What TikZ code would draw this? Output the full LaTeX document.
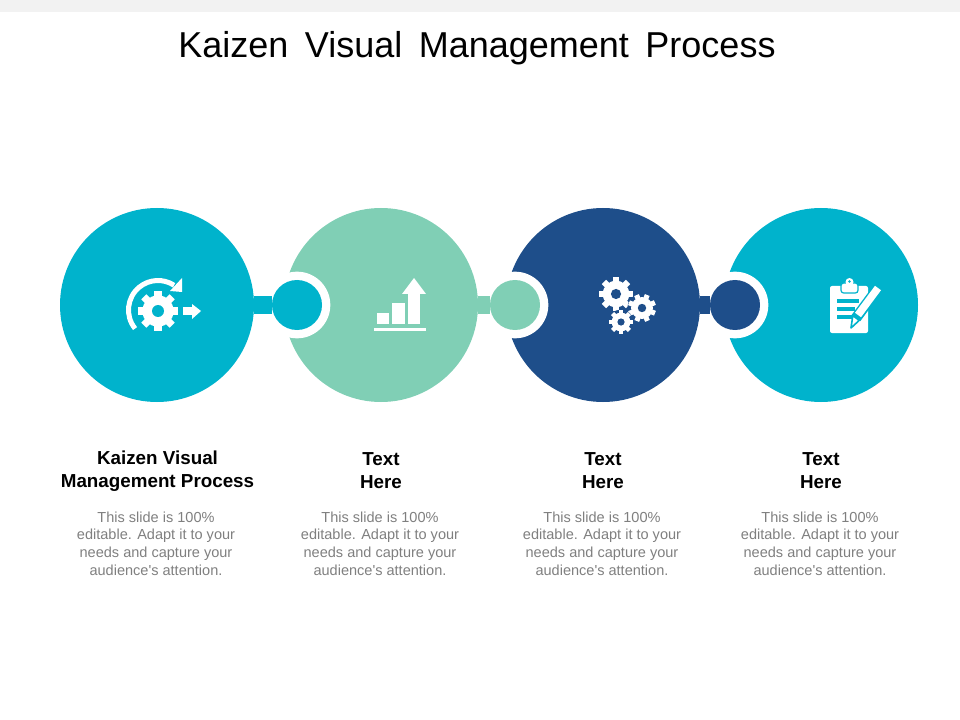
\documentclass[tikz,border=0pt]{standalone}
\usepackage{fontspec}
\setmainfont{Liberation Sans}
\newfontfamily\bodyfont{Liberation Sans}
\definecolor{tealc}{HTML}{00B3CC}
\definecolor{mintc}{HTML}{80CFB5}
\definecolor{navyc}{HTML}{1E4E8A}
\definecolor{bodygray}{HTML}{7F7F7F}
\definecolor{bandgray}{HTML}{F2F2F2}
\newcommand{\gearicon}[5]{
    \begin{scope}[shift={(#1,#2)}]
        \fill[white] (0,0) circle ({0.78*#3});
        \foreach \a in {0,45,...,315}
            \draw[white,line width={0.27*#3}] (\a+#5:{0.6*#3}) -- (\a+#5:#3);
        \fill[#4] (0,0) circle (0.3*#3);
    \end{scope}
}
\begin{document}
\begin{tikzpicture}[x=0.75pt,y=-0.75pt]
            \useasboundingbox (0,0) rectangle (960,720);
            \fill[bandgray] (0,0) rectangle (960,12);
            \node (T) at (477,48) {\fontsize{27}{32}\selectfont\spaceskip=12.4pt Kaizen Visual Management Process};

            \begin{scope}[every node/.style={circle,minimum size=145.5pt,inner sep=0pt}]
                \node (C1) [fill=tealc] at (157,305) {};
                \node (C2) [fill=mintc] at (381,305) {};
                \node (C3) [fill=navyc] at (603,305) {};
                \node (C4) [fill=tealc] at (821,305) {};
            \end{scope}

            \begin{scope}[every node/.style={circle,fill=white,minimum size=50pt,inner sep=0pt}]
                \node (R1) at (297,305) {};
                \node (R2) at (515,305) {};
                \node (R3) at (735,305) {};
            \end{scope}

            \begin{scope}[every node/.style={circle,minimum size=37.5pt,inner sep=0pt}]
                \node (D1) [fill=tealc] at (297,305) {};
                \node (D2) [fill=mintc] at (515,305) {};
                \node (D3) [fill=navyc] at (735,305) {};
            \end{scope}

            \draw[tealc,line width=13.5pt] (C1) -- (D1);
            \draw[mintc,line width=13.5pt] (C2) -- (D2);
            \draw[navyc,line width=13.5pt] (C3) -- (D3);

            % first icon
            \gearicon{158}{311}{20}{tealc}{0}
            \draw[white,line width=3.75pt] ([shift={(158,310)}]141:29.5) arc[start angle=141,end angle=303,radius=29.5];
            \fill[white] (182,278) -- (182,292) -- (170,291) -- cycle;
            \fill[white] (183,307) rectangle (192,315);
            \fill[white] (192,304) -- (201,311) -- (192,319) -- cycle;

            % second icon
            \fill[white] (377,313) rectangle (389,324);
            \fill[white] (392,303) rectangle (405,324);
            \fill[white] (408,294) rectangle (420,324);
            \fill[white] (402,294) -- (414,278) -- (426,294) -- cycle;
            \fill[white] (374,328) rectangle (426,331);

            % third icon
            \gearicon{616}{294}{17}{navyc}{0}
            \fill[navyc] (642,308) circle (14.5);
            \gearicon{642}{308}{14}{navyc}{22}
            \fill[navyc] (621,322) circle (12.5);
            \gearicon{621}{322}{12}{navyc}{0}

            % fourth icon
            \fill[white,rounded corners=1.5pt] (830,286) rectangle (868,333);
            \draw[tealc,fill=white,line width=0.9pt,rounded corners=2pt] (841,283) rectangle (858,293);
            \fill[white] (849.5,282) circle (4);
            \fill[tealc] (849.5,281.5) circle (1.3);
            \fill[tealc] (837,299) rectangle (859,303);
            \fill[tealc] (837,307) rectangle (855,311);
            \fill[tealc] (837,315) rectangle (853,319);
            \draw[tealc,line width=8pt] (876,291) -- (856,318);
            \draw[tealc,fill=white,line width=1.2pt,line join=round] (859.2,320.4) -- (851,328) -- (852.8,315.6) -- cycle;
            \draw[white,line width=5.6pt] (878,288) -- (858,315);

            \begin{scope}[every node/.style={align=center,font=\bfseries\fontsize{14.1}{17.2}\selectfont}]
                \node (H1) at (157.5,471) {Kaizen Visual\\Management Process};
                \node (H2) at (381,471) {Text\\Here};
                \node (H3) at (603,471) {Text\\Here};
                \node (H4) at (821,471) {Text\\Here};
            \end{scope}

            \begin{scope}[every node/.style={align=center,text=bodygray,font=\bodyfont\fontsize{10.9}{13.3}\selectfont}]
                \node (B1) at (156,543.5) {This slide is 100\%\\editable. Adapt it to your\\needs and capture your\\audience's attention.};
                \node (B2) at (380,543.5) {This slide is 100\%\\editable. Adapt it to your\\needs and capture your\\audience's attention.};
                \node (B3) at (602,543.5) {This slide is 100\%\\editable. Adapt it to your\\needs and capture your\\audience's attention.};
                \node (B4) at (820,543.5) {This slide is 100\%\\editable. Adapt it to your\\needs and capture your\\audience's attention.};
            \end{scope}
        \end{tikzpicture}
\end{document}
